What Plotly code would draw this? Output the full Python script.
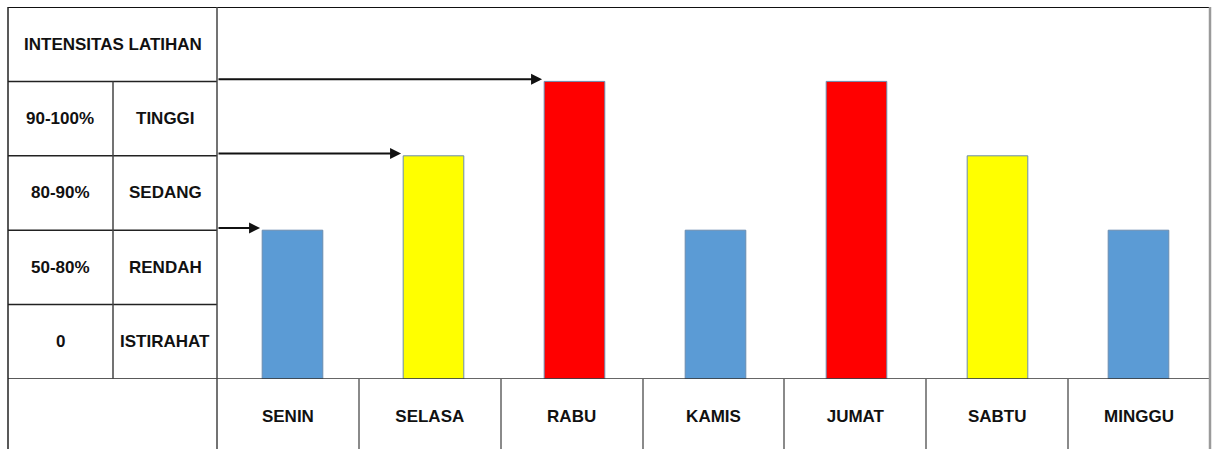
import plotly.graph_objects as go

# Weekly training plan: intensity level per day
days = ["SENIN", "SELASA", "RABU", "KAMIS", "JUMAT", "SABTU", "MINGGU"]
levels = [2, 3, 4, 2, 4, 3, 2]

# Intensity table (top row first)
range_labels = ["90-100%", "80-90%", "50-80%", "0"]
level_names = ["TINGGI", "SEDANG", "RENDAH", "ISTIRAHAT"]
row_levels = [3.5, 2.5, 1.5, 0.5]
table_title = "INTENSITAS LATIHAN"

level_colors = {2: "#5B9BD5", 3: "#FFFF00", 4: "#FF0000"}

W, H = 1217, 449
FONT = "Liberation Sans, Arial, sans-serif"
FSIZE = 17

# page geometry (pixels -> paper fractions)
x_left = 8 / W
x_mid = 113 / W
x_tbl = 217 / W
x_right = 1210 / W
y_base = 70 / H
y_top = 442 / H
BAR_W = 0.43

fig = go.Figure()

fig.add_trace(go.Bar(
    x=days, y=levels, width=BAR_W,
    marker=dict(color=[level_colors[v] for v in levels],
                line=dict(color="#6A8CB0", width=1)),
    hoverinfo="x+y", xaxis="x", yaxis="y",
))

# day labels in the bottom row, one per category cell
fig.add_trace(go.Scatter(
    x=days, y=[0.45] * len(days), mode="text", text=days,
    textfont=dict(family=FONT, size=FSIZE, color="#111", weight="bold"),
    hoverinfo="skip", xaxis="x2", yaxis="y2", showlegend=False,
))

fig.update_layout(
    width=W, height=H,
    margin=dict(l=0, r=0, t=0, b=0),
    paper_bgcolor="white", plot_bgcolor="rgba(0,0,0,0)",
    showlegend=False,
    xaxis=dict(domain=[222 / W, 1209 / W], range=[-0.5, 6.5],
               showticklabels=False, showgrid=False, zeroline=False,
               showline=False, ticks=""),
    yaxis=dict(domain=[y_base, y_top], range=[0, 5],
               showticklabels=False, showgrid=False, zeroline=False,
               showline=False, ticks=""),
    xaxis2=dict(domain=[x_tbl, x_right], range=[-0.5, 6.5], anchor="y2",
                categoryorder="array", categoryarray=days,
                tickson="boundaries", showgrid=True, gridcolor="#8a8a8a",
                gridwidth=1.5, showticklabels=False, zeroline=False,
                showline=False, ticks=""),
    yaxis2=dict(domain=[0, y_base], range=[0, 1], anchor="x2",
                showticklabels=False, showgrid=False, zeroline=False,
                showline=False, ticks=""),
)

shapes = []
dark = dict(color="#222", width=1.5)
# table row separators
for yv in range(0, 5):
    shapes.append(dict(type="line", xref="paper", yref="y", x0=x_left, x1=x_tbl,
                       y0=yv, y1=yv, line=dark))
# top border and baseline across the full width
shapes.append(dict(type="line", xref="paper", yref="y", x0=x_left, x1=x_right,
                   y0=5, y1=5, line=dict(color="#111", width=2)))
shapes.append(dict(type="line", xref="paper", yref="y", x0=x_tbl, x1=x_right,
                   y0=0, y1=0, line=dict(color="#333", width=1.5)))
# vertical borders
shapes.append(dict(type="line", xref="paper", yref="paper", x0=x_left, x1=x_left,
                   y0=0, y1=y_top, line=dark))
shapes.append(dict(type="line", xref="paper", yref="paper", x0=x_tbl, x1=x_tbl,
                   y0=0, y1=y_top, line=dict(color="#444", width=1.5)))
shapes.append(dict(type="line", xref="paper", yref="y", x0=x_mid, x1=x_mid,
                   y0=0, y1=4, line=dict(color="#444", width=1.5)))
shapes.append(dict(type="line", xref="paper", yref="paper", x0=x_right, x1=x_right,
                   y0=0, y1=y_top, line=dict(color="#9a9a9a", width=2.5)))
fig.update_layout(shapes=shapes)

annotations = []
tfont = dict(family=FONT, size=FSIZE, color="#111", weight="bold")
annotations.append(dict(text=table_title, xref="paper", yref="y",
                        x=(x_left + x_tbl) / 2, y=4.5, showarrow=False,
                        xanchor="center", yanchor="middle", font=tfont))
for rl, nm, yv in zip(range_labels, level_names, row_levels):
    annotations.append(dict(text=rl, xref="paper", yref="y",
                            x=(x_left + x_mid) / 2, y=yv, showarrow=False,
                            xanchor="center", yanchor="middle", font=tfont))
    annotations.append(dict(text=nm, xref="paper", yref="y",
                            x=(x_mid + x_tbl) / 2, y=yv, showarrow=False,
                            xanchor="center", yanchor="middle", font=tfont))

# arrows from the table edge to the first bar of each level
tail_x = -0.5 - 5 / 141
for lv in sorted(set(levels), reverse=True):
    i = levels.index(lv)
    annotations.append(dict(
        text="", xref="x", yref="y", axref="x", ayref="y",
        x=i - BAR_W / 2 - 0.015, y=lv + 0.03, ax=tail_x, ay=lv + 0.03,
        showarrow=True, arrowhead=2, arrowsize=1.1, arrowwidth=2,
        arrowcolor="#111",
    ))
fig.update_layout(annotations=annotations)

fig.write_html("out.html")
